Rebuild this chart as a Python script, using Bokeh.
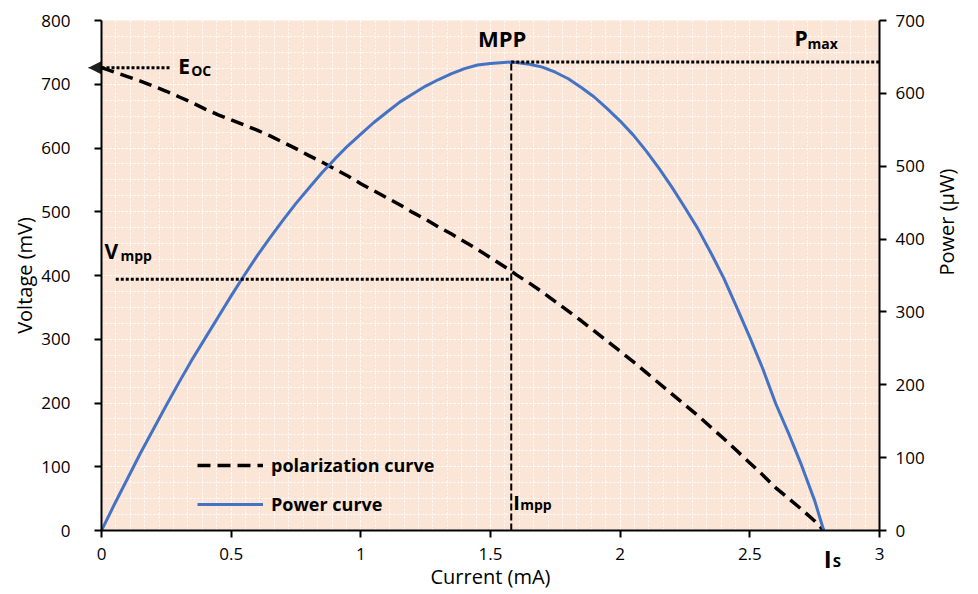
import math
from bokeh.plotting import figure
from bokeh.models import (Range1d, LinearAxis, SingleIntervalTicker, Label, Arrow,
                          NormalHead, Legend, LegendItem)
from bokeh.embed import file_html
from bokeh.resources import INLINE

# ---------------- data ----------------
current_mA = [0.00, 0.05, 0.10, 0.15, 0.20, 0.25, 0.30, 0.35, 0.40, 0.45, 0.50, 0.55,
              0.60, 0.65, 0.70, 0.75, 0.80, 0.85, 0.90, 0.95, 1.00, 1.05, 1.10, 1.15,
              1.20, 1.25, 1.30, 1.35, 1.40, 1.45, 1.50, 1.55, 1.58, 1.60, 1.65, 1.70,
              1.75, 1.80, 1.85, 1.90, 1.95, 2.00, 2.05, 2.10, 2.15, 2.20, 2.25, 2.30,
              2.35, 2.40, 2.45, 2.50, 2.55, 2.60, 2.65, 2.70, 2.75, 2.785]
voltage_mV = [726, 719, 712, 705, 697, 689, 680, 671, 661, 652, 644, 636,
              628, 619, 609, 599, 588, 578, 567, 556, 544, 533, 522, 511,
              499, 488, 476, 465, 453, 441, 428, 415, 407, 401, 388, 374,
              359, 344, 329, 313, 297, 281, 265, 248, 231, 214, 197, 180,
              162, 144, 125, 106, 87, 67, 50, 33, 15, 0]
power_uW = [0, 36, 71, 106, 139, 172, 204, 235, 264, 293, 322, 350,
            377, 402, 426, 449, 470, 491, 510, 528, 544, 560, 574, 588,
            599, 610, 619, 627, 634, 639, 641, 642.5, 643, 642.5, 640, 636,
            629, 620, 608, 595, 579, 562, 543, 521, 497, 471, 443, 414,
            381, 346, 306, 265, 222, 174, 133, 89, 41, 0]

x_ticks = [0, 0.5, 1, 1.5, 2, 2.5, 3]
x_tick_labels = ["0", "0.5", "1", "1.5", "2", "2.5", "3"]

e_oc = voltage_mV[0]          # open-circuit voltage (mV)
p_max = max(power_uW)         # maximum power (uW)
i_mpp = current_mA[power_uW.index(p_max)]
v_mpp_line = 394              # level of the dotted V_mpp marker (mV)
v_mpp_line_start = 0.055      # where that dotted marker starts (mA)
e_oc_line_end = 0.265         # right end of the E_oc dotted marker (mA)
i_s = current_mA[-1]          # short-circuit current (mA)

FONT = "Open Sans"
BG = "#FBE5D6"
BLUE = "#4472C4"

W, H = 976, 594
B_LEFT, B_RIGHT, B_TOP, B_BOTTOM = 101, 96, 20, 64

p = figure(width=W, height=H, output_backend="svg", toolbar_location=None,
           x_range=Range1d(0, 3), y_range=Range1d(0, 800),
           min_border_left=B_LEFT, min_border_right=B_RIGHT, min_border_top=B_TOP,
           min_border_bottom=B_BOTTOM)
p.extra_y_ranges = {"power": Range1d(0, 700)}
p.background_fill_color = BG
p.border_fill_color = "white"
p.outline_line_color = None

# axes
p.xaxis.ticker = SingleIntervalTicker(interval=0.5, num_minor_ticks=9)
p.xaxis.major_label_overrides = {t: l for t, l in zip(x_ticks, x_tick_labels)}
p.yaxis.ticker = SingleIntervalTicker(interval=100, num_minor_ticks=4)
p.xaxis.axis_label = "Current (mA)"
p.yaxis.axis_label = "Voltage (mV)"

right = LinearAxis(y_range_name="power", axis_label="Power (µW)",
                   ticker=SingleIntervalTicker(interval=100, num_minor_ticks=4))
right.axis_label_orientation = math.pi / 2
p.add_layout(right, "right")

for ax in [p.xaxis[0], p.yaxis[0], right]:
    ax.axis_line_color = "black"
    ax.axis_line_width = 2
    ax.major_tick_line_color = "black"
    ax.major_tick_line_width = 2
    ax.major_tick_out = 7
    ax.major_tick_in = 0
    ax.minor_tick_line_color = None
    ax.major_label_text_font = FONT
    ax.major_label_text_font_size = "17px"
    ax.major_label_text_color = "black"
    ax.axis_label_text_font = FONT
    ax.axis_label_text_font_size = "20px"
    ax.axis_label_text_font_style = "normal"
    ax.axis_label_text_color = "black"

p.xaxis.major_label_standoff = 10
p.xaxis.axis_label_standoff = 0
p.yaxis.major_label_standoff = 24
p.yaxis.axis_label_standoff = 0
right.major_label_standoff = 9
right.axis_label_standoff = 19

# fine white dotted background grid
for g in [p.xgrid[0], p.ygrid[0]]:
    g.grid_line_color = "white"
    g.grid_line_dash = "2 2"
    g.grid_line_width = 1
    g.grid_line_alpha = 0.9
    g.minor_grid_line_color = "white"
    g.minor_grid_line_dash = "2 2"
    g.minor_grid_line_width = 1
    g.minor_grid_line_alpha = 0.9

# curves
pol = p.line(current_mA, voltage_mV, line_color="black", line_width=3.5,
             line_dash="13 7")
pwr = p.line(current_mA, power_uW, line_color=BLUE, line_width=3,
             y_range_name="power", line_join="round")

# reference markers
p.line([i_mpp, i_mpp], [0, p_max], y_range_name="power", line_color="black",
       line_width=2, line_dash="7 3")
p.line([i_mpp, 3.0], [p_max, p_max], y_range_name="power", line_color="black",
       line_width=3, line_dash="3 2")
p.line([v_mpp_line_start, i_mpp], [v_mpp_line, v_mpp_line], line_color="black",
       line_width=3, line_dash="3 2")
p.line([0, e_oc_line_end], [e_oc, e_oc], line_color="black",
       line_width=3, line_dash="3 2")

# left-pointing arrow head at the voltage axis (E_oc), built from thin
# vertical arrow bodies so that it can sit outside the plot frame
px_per_mA = (W - B_LEFT - B_RIGHT) / 3.0
px_per_mV = (H - B_TOP - B_BOTTOM) / 800.0
HEAD_LEN, HEAD_HALF = 13, 6.5
for j in range(HEAD_LEN):
    d = j + 0.5
    half = max(d * HEAD_HALF / HEAD_LEN, 0.5)
    xj = -(HEAD_LEN - d) / px_per_mA
    dy = half / px_per_mV
    p.add_layout(Arrow(end=NormalHead(size=2 * half + 1, fill_alpha=0, line_alpha=0),
                       x_start=xj, y_start=e_oc + dy, x_end=xj, y_end=e_oc - dy,
                       line_color="black", line_width=1.3, line_cap="butt",
                       level="overlay"))


def lab(text, x, y, size, dx=0, dy=0, align="left", rng="default", place=None):
    label = Label(x=x, y=y, x_offset=dx, y_offset=dy + 10, text=text,
                  text_font=FONT, text_font_size=size, text_font_style="bold",
                  text_align=align, text_baseline="alphabetic",
                  text_color="black", y_range_name=rng, level="overlay")
    if place is None:
        p.add_layout(label)
    else:
        p.add_layout(label, place)


# E_oc
lab("E", e_oc_line_end, e_oc, "21px", dx=8, dy=-8)
lab("OC", e_oc_line_end, e_oc, "14px", dx=21, dy=-13)
# MPP and P_max
lab("MPP", i_mpp, p_max, "22px", dx=-9, dy=14, align="center", rng="power")
lab("P", 3.0, p_max, "21px", dx=-85, dy=14, rng="power")
lab("max", 3.0, p_max, "14px", dx=-72, dy=9, rng="power")
# V_mpp
lab("V", 0, v_mpp_line, "21px", dx=3, dy=18)
lab("mpp", 0, v_mpp_line, "14px", dx=19, dy=14)
# I_mpp
lab("I", i_mpp, 0, "20px", dx=2, dy=18)
lab("mpp", i_mpp, 0, "14px", dx=9, dy=16)
# I_S lies below the frame, so it lives in side panels (not clipped to the frame)
lab("I", i_s, 0, "24px", dx=0, dy=-38, place="left")
lab("S", i_s, 0, "15px", dx=9, dy=-40, place="above")

legend = Legend(items=[LegendItem(label="polarization curve", renderers=[pol]),
                       LegendItem(label="Power curve", renderers=[pwr])],
                location=(96, 14))
legend.background_fill_alpha = 0
legend.border_line_color = None
legend.padding = 0
legend.margin = 0
legend.spacing = 15
legend.glyph_width = 66
legend.glyph_height = 22
legend.label_height = 22
legend.label_standoff = 8
legend.label_text_font = FONT
legend.label_text_font_size = "18px"
legend.label_text_font_style = "bold"
legend.label_text_color = "black"
p.add_layout(legend)

open("out.html", "w").write(file_html(p, INLINE))
